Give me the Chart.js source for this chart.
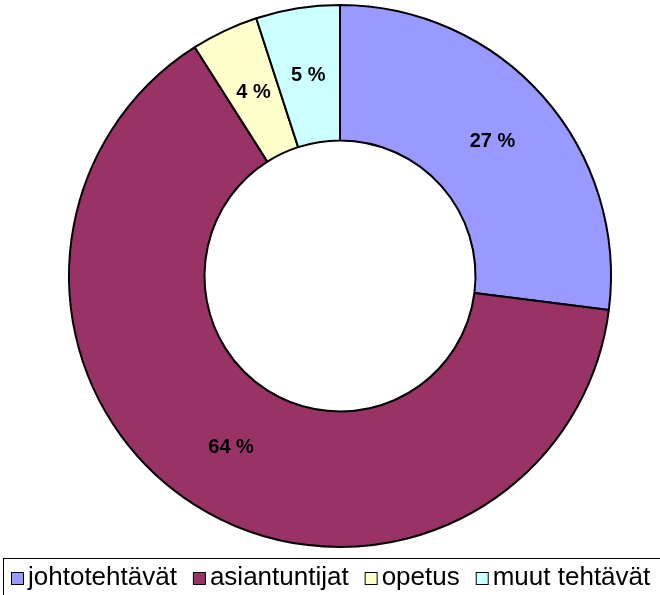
<!DOCTYPE html>
<html>
<head>
<meta charset="utf-8">
<script src="https://cdn.jsdelivr.net/npm/chart.js@4/dist/chart.umd.min.js"></script>
<style>
    html, body { margin: 0; padding: 0; background: #fff; }
    #wrap { width: 660px; height: 595px; position: relative; }
</style>
</head>
<body>
<div id="wrap"><canvas id="myChart" width="660" height="595"></canvas></div>
<script>
const categories = ['johtotehtävät', 'asiantuntijat', 'opetus', 'muut tehtävät'];
const shares = [27, 64, 4, 5];
const sliceColors = ['#9999FF', '#993366', '#FFFFCC', '#CCFFFF'];

// percentage labels inside the ring
const sliceLabels = {
    id: 'sliceLabels',
    afterDatasetsDraw(chart) {
        const ctx = chart.ctx;
        const meta = chart.getDatasetMeta(0);
        ctx.save();
        ctx.font = 'bold 20px "Liberation Sans", Arial, sans-serif';
        ctx.fillStyle = '#000';
        ctx.textAlign = 'center';
        ctx.textBaseline = 'middle';
        meta.data.forEach((arc, i) => {
            const p = arc.tooltipPosition();
            ctx.fillText(shares[i] + ' %', p.x, p.y);
        });
        ctx.restore();
    }
};

// boxed legend along the bottom, like the original spreadsheet chart
const boxLegend = {
    id: 'boxLegend',
    afterDraw(chart) {
        const ctx = chart.ctx;
        const ds = chart.data.datasets[0];
        const top = chart.chartArea.bottom + 10;
        ctx.save();
        ctx.strokeStyle = '#000';
        ctx.lineWidth = 1;
        ctx.strokeRect(3.5, top + 0.5, 700, 60);

        ctx.font = '26px "Liberation Sans", Arial, sans-serif';
        ctx.textBaseline = 'alphabetic';
        const box = 12;
        let x = 11;
        const boxY = top + 14;
        chart.data.labels.forEach((label, i) => {
            ctx.fillStyle = ds.backgroundColor[i];
            ctx.fillRect(x + 0.5, boxY + 0.5, box, box);
            ctx.strokeRect(x + 0.5, boxY + 0.5, box, box);
            x += box + 5;
            ctx.fillStyle = '#000';
            ctx.fillText(label, x, boxY + 13);
            x += ctx.measureText(label).width + 16;
        });
        ctx.restore();
    }
};

const ctx = document.getElementById('myChart').getContext('2d');
new Chart(ctx, {
    type: 'doughnut',
    data: {
        labels: categories,
        datasets: [{
            data: shares,
            backgroundColor: sliceColors,
            borderColor: '#000',
            borderWidth: 2
        }]
    },
    options: {
        responsive: false,
        animation: false,
        cutout: '50%',
        layout: { padding: { left: 20, right: 0, top: 4, bottom: 47 } },
        plugins: {
            legend: { display: false },
            tooltip: { enabled: false }
        }
    },
    plugins: [sliceLabels, boxLegend]
});
</script>
</body>
</html>
